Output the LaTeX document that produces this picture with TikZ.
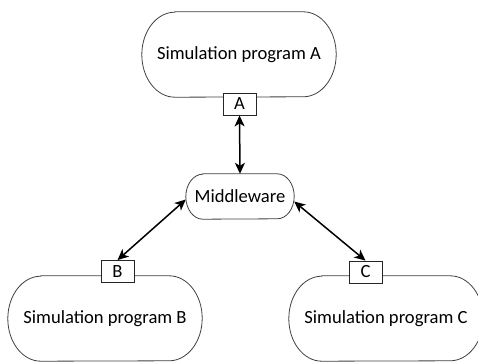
\documentclass[tikz,border=0pt]{standalone}
\usepackage{fontspec}
\setmainfont{Carlito}
\usetikzlibrary{arrows.meta}
\tikzset{
  x=1pt,y=1pt,
  prog/.style={minimum width=194pt,minimum height=85pt,inner sep=0pt,font=\fontsize{18.6}{22}\selectfont},
  mid/.style={minimum width=108pt,minimum height=45pt,inner sep=0pt,font=\fontsize{18.6}{22}\selectfont},
  port/.style={draw=black!85,fill=white,line width=0.8pt,minimum width=33pt,minimum height=22pt,inner sep=0pt,font=\fontsize{18.6}{22}\selectfont},
  outline/.style={draw=black!75,line width=0.8pt},
  link/.style={line width=1.5pt,{Stealth[length=11pt,width=10pt,inset=3pt]}-{Stealth[length=11pt,width=10pt,inset=3pt]}}
}
\newcommand{\stadium}[3]{%
  \draw[outline] ([xshift=#2]#1.north west) -- ([xshift=-#2]#1.north east)
    arc[start angle=90,end angle=-90,x radius=#2,y radius=#3]
    -- ([xshift=#2]#1.south west)
    arc[start angle=270,end angle=90,x radius=#2,y radius=#3] -- cycle;}
\begin{document}
\begin{tikzpicture}
\useasboundingbox (0,0) rectangle (478,361);
\node[prog] (pa) at (239,306.5) {Simulation program A};
\node[prog] (pb) at (105,42.5) {Simulation program B};
\node[prog] (pc) at (386,42.5) {Simulation program C};
\node[mid] (mw) at (240,164.5) {Middleware};
\stadium{pa}{33pt}{42.5pt}
\stadium{pb}{33pt}{42.5pt}
\stadium{pc}{33pt}{42.5pt}
\stadium{mw}{17pt}{22.5pt}
\node[port] (ba) at (239.5,257) {A};
\node[port] (bb) at (117.5,89.5) {B};
\node[port] (bc) at (365.5,89) {C};
\draw[link] (ba.south) -- (mw.north);
\draw[link] ([yshift=-3pt]mw.west) -- (bb.north);
\draw[link] ([yshift=-5pt]mw.east) -- (bc.north);
\end{tikzpicture}
\end{document}
